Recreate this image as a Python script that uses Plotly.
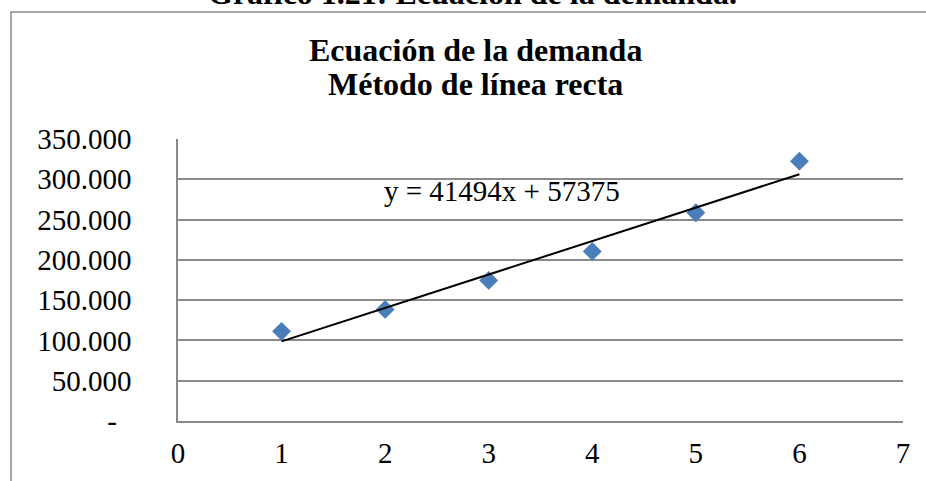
import plotly.graph_objects as go

# Periods and observed demand
periodos = [1, 2, 3, 4, 5, 6]
demanda = [111300, 138500, 174500, 210500, 258500, 322500]

# Fitted straight line y = a*x + b
pendiente = 41494
intercepto = 57375

y_ticks = [0, 50000, 100000, 150000, 200000, 250000, 300000, 350000]
y_labels = ["-\u00a0\u00a0", "50.000", "100.000", "150.000", "200.000",
            "250.000", "300.000", "350.000"]
x_ticks = [0, 1, 2, 3, 4, 5, 6, 7]

W, H = 926, 481
ML, MR, MT, MB = 178, 23, 139, 60
PW, PH = W - ML - MR, H - MT - MB

def px_x(p):
    return (p - ML) / PW

def px_y(p):
    return (H - MB - p) / PH

FONT = "Liberation Serif, Times New Roman, serif"
GRID = "#8a8a8a"

x_fit = [periodos[0], periodos[-1]]
y_fit = [pendiente * x + intercepto for x in x_fit]

fig = go.Figure()
fig.add_trace(go.Scatter(
    x=periodos, y=demanda, mode="markers",
    marker=dict(symbol="diamond", size=14.5, color="#4a7ebb", line=dict(width=0)),
    showlegend=False, hoverinfo="x+y",
))
fig.add_trace(go.Scatter(
    x=x_fit, y=y_fit, mode="lines",
    line=dict(color="black", width=2),
    showlegend=False, hoverinfo="skip",
))

fig.update_layout(
    width=W, height=H,
    margin=dict(l=ML, r=MR, t=MT, b=MB, autoexpand=False),
    paper_bgcolor="white", plot_bgcolor="white",
    font=dict(family=FONT, color="black", size=29),
    xaxis=dict(
        range=[0, 7], tickvals=x_ticks, showgrid=False, zeroline=False,
        showline=True, linecolor=GRID, linewidth=1.5,
        ticks="", ticklabelstandoff=5, automargin=False,
        tickfont=dict(family=FONT, size=29, color="black"),
    ),
    yaxis=dict(
        range=[0, 350000], tickvals=y_ticks, ticktext=y_labels,
        showgrid=True, gridcolor=GRID, gridwidth=1.5, zeroline=False,
        showline=True, linecolor=GRID, linewidth=1.5,
        ticks="", ticklabelstandoff=39, automargin=False,
        tickfont=dict(family=FONT, size=29, color="black"),
    ),
    shapes=[dict(
        type="rect", xref="paper", yref="paper",
        x0=px_x(11), x1=px_x(W + 20), y0=px_y(H + 20), y1=px_y(12),
        line=dict(color=GRID, width=1.5), fillcolor="rgba(0,0,0,0)", layer="below",
    )],
    annotations=[
        dict(text="<b>Gráfico 1.21: Ecuación de la demanda.</b>", xref="paper", yref="paper",
             x=px_x(472), y=px_y(-7), xanchor="center", yanchor="middle", showarrow=False,
             font=dict(family=FONT, size=32, color="black")),
        dict(text="<b>Ecuación de la demanda</b>", xref="paper", yref="paper",
             x=px_x(475), y=px_y(50), xanchor="center", yanchor="middle", showarrow=False,
             font=dict(family=FONT, size=32, color="black")),
        dict(text="<b>Método de línea recta</b>", xref="paper", yref="paper",
             x=px_x(475), y=px_y(84), xanchor="center", yanchor="middle", showarrow=False,
             font=dict(family=FONT, size=32, color="black")),
        dict(text=f"y = {pendiente}x + {intercepto}", xref="paper", yref="paper",
             x=px_x(502), y=px_y(191), xanchor="center", yanchor="middle", showarrow=False,
             font=dict(family=FONT, size=29, color="black")),
    ],
)

fig.write_html("out.html")
